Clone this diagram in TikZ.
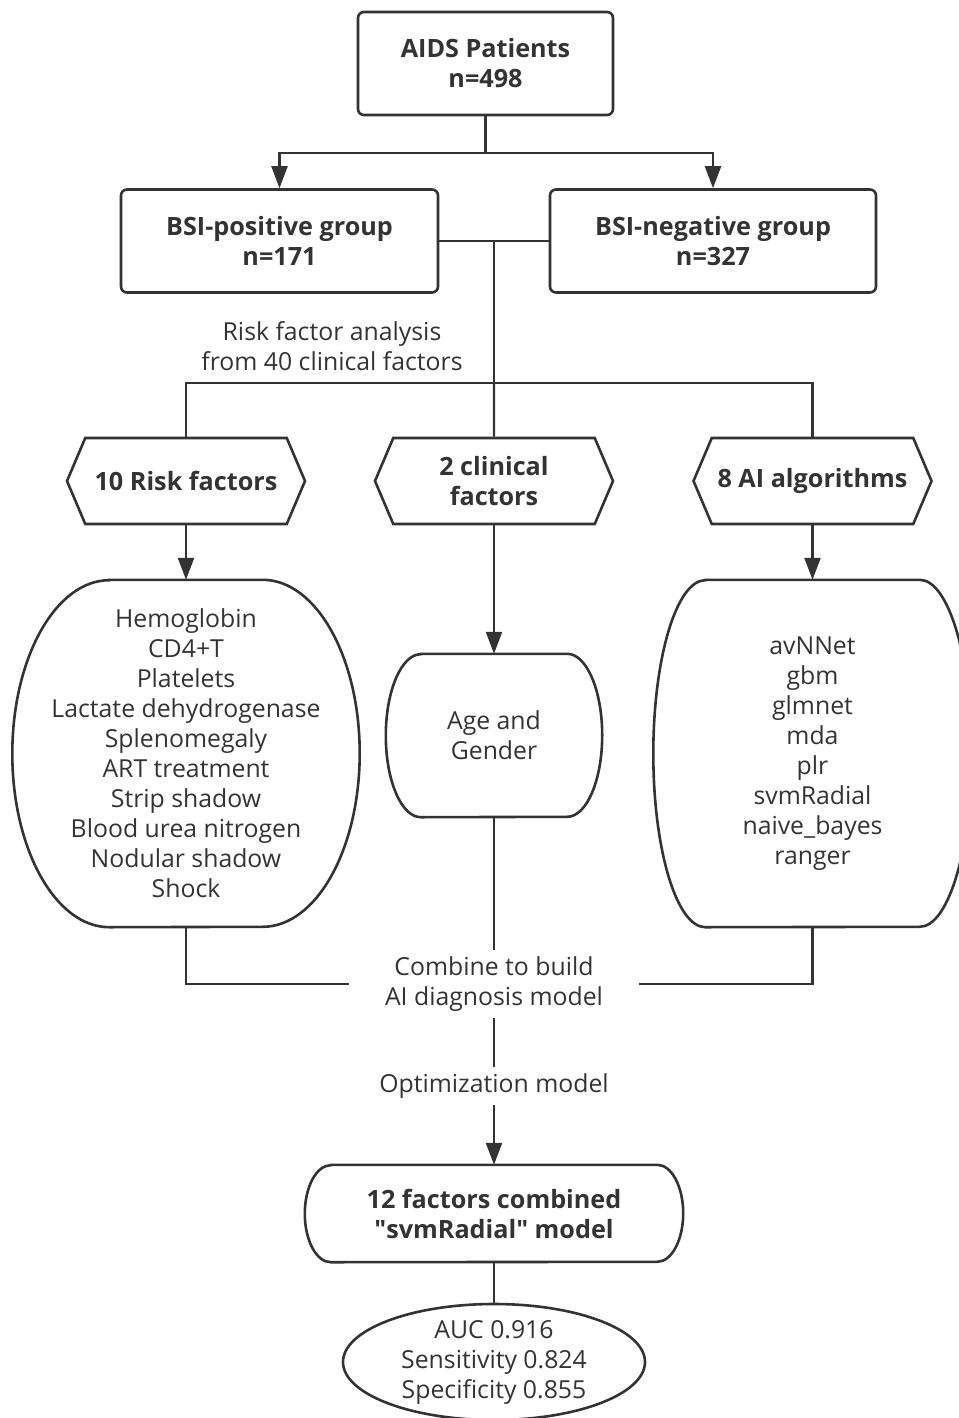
\documentclass[tikz,border=0pt]{standalone}
\usepackage{fontspec}
\setmainfont{Open Sans}
\usepackage{xcolor}
\usepackage{tikz}
\usetikzlibrary{arrows.meta, shapes.geometric, shapes.symbols, calc}
\definecolor{ink}{HTML}{333333}
\newcommand{\plainfont}{\fontsize{24.8pt}{30pt}\selectfont}
\newcommand{\headfont}{\fontsize{25.2pt}{30pt}\selectfont\bfseries}
\tikzstyle{box} = [rectangle, draw = ink, line width = 2.6pt, rounded corners = 6pt, align = center, font = \headfont, minimum height = 103pt]
\tikzstyle{hexa} = [signal, signal to = west and east, signal pointer angle = 134, draw = ink, line width = 2.6pt, align = center, font = \headfont, minimum width = 238pt, minimum height = 86pt, inner sep = 0pt]
\tikzstyle{bulge} = [rectangle, align = center, inner sep = 0pt]
\tikzstyle{outline} = [draw = ink, line width = 2.6pt]
\tikzstyle{note} = [align = center, inner ysep = 6pt]
\tikzstyle{link} = [draw = ink, line width = 2.2pt]
\tikzstyle{line} = [link, -{Triangle[length = 22pt, width = 16pt]}]
% outline of a box whose sides bulge out: name, x radius, half height
\newcommand{\bulgeline}[3]{%
  \draw[outline] ([xshift = #2]#1.north west) -- ([xshift = -#2]#1.north east)
    arc[start angle = 90, end angle = -90, x radius = #2, y radius = #3]
    -- ([xshift = #2]#1.south west)
    arc[start angle = 270, end angle = 90, x radius = #2, y radius = #3] -- cycle;}
\begin{document}
\begin{tikzpicture}[font = \plainfont, color = ink]
        \useasboundingbox (0,0) rectangle (958pt,-1418pt);
        \node (aids) [box, minimum width = 255pt] at (485.5pt,-63.5pt) {AIDS Patients\\n=498};
        \node (pos) [box, below of = aids, xshift = -206pt, node distance = 177.5pt, minimum width = 317pt] {BSI-positive group\\n=171};
        \node (neg) [box, right of = pos, node distance = 433.5pt, minimum width = 326pt] {BSI-negative group\\n=327};
        \node (rfa) [note, below of = pos, xshift = 52.5pt, node distance = 105pt] {Risk factor analysis\\from 40 clinical factors};
        \node (rf) [hexa, below of = pos, xshift = -93.5pt, node distance = 240pt] {10 Risk factors};
        \node (cf) [hexa, right of = rf, node distance = 308pt] {2 clinical\\factors};
        \node (ai) [hexa, right of = cf, node distance = 318.5pt] {8 AI algorithms};
        \node (rflist) [bulge, below of = rf, node distance = 272.5pt, minimum width = 347pt, minimum height = 347pt] {Hemoglobin\\CD4+T\\Platelets\\Lactate dehydrogenase\\Splenomegaly\\ART treatment\\Strip shadow\\Blood urea nitrogen\\Nodular shadow\\Shock};
        \node (cflist) [bulge, below of = cf, node distance = 254.5pt, minimum width = 216pt, minimum height = 163pt] {Age and\\Gender};
        \node (ailist) [bulge, below of = ai, node distance = 272.5pt, minimum width = 318pt, minimum height = 347pt] {avNNet\\gbm\\glmnet\\mda\\plr\\svmRadial\\naive\_bayes\\ranger};
        \node (combine) [note, inner xsep = 36pt, below of = cflist, node distance = 248.5pt] {Combine to build\\AI diagnosis model};
        \node (optim) [note, below of = combine, node distance = 102pt] {Optimization model};
        \node (final) [bulge, font = \headfont, below of = optim, node distance = 127.5pt, minimum width = 378pt, minimum height = 97pt] {12 factors combined\\\textquotedbl svmRadial\textquotedbl{} model};
        \node (res) [ellipse, draw = ink, line width = 2.6pt, align = center, inner sep = -12pt, below of = final, node distance = 148.5pt, minimum width = 302pt, minimum height = 116pt] {AUC 0.916\\Sensitivity 0.824\\Specificity 0.855};
        \bulgeline{rflist}{97pt}{173.5pt}
        \bulgeline{cflist}{35pt}{81.5pt}
        \bulgeline{ailist}{52pt}{173.5pt}
        \bulgeline{final}{26pt}{48.5pt}
        \coordinate (split) at ([yshift = -37pt]aids.south);
        \coordinate (join) at ($(pos.east)!0.5!(neg.west)$);
        \coordinate (fork) at ([yshift = -142pt]join);
        \draw[link] (aids.south) -- (split);
        \draw[line] (split) -| (pos.north);
        \draw[line] (split) -| (neg.north);
        \draw[link] (pos.east) -- (neg.west);
        \draw[link] (join) -- (fork);
        \draw[link] (fork) -| (rf.north);
        \draw[link] (fork) -| (ai.north);
        \draw[link] (fork) -- (cf.north);
        \draw[line] (rf.south) -- (rflist.north);
        \draw[line] (cf.south) -- (cflist.north);
        \draw[line] (ai.south) -- (ailist.north);
        \draw[link] (rflist.south) |- (combine.west);
        \draw[link] (ailist.south) |- (combine.east);
        \draw[link] (cflist.south) -- (combine.north);
        \draw[link] (combine.south) -- (optim.north);
        \draw[line] (optim.south) -- (final.north);
        \draw[link] (final.south) -- (res.north);
    \end{tikzpicture}
\end{document}
